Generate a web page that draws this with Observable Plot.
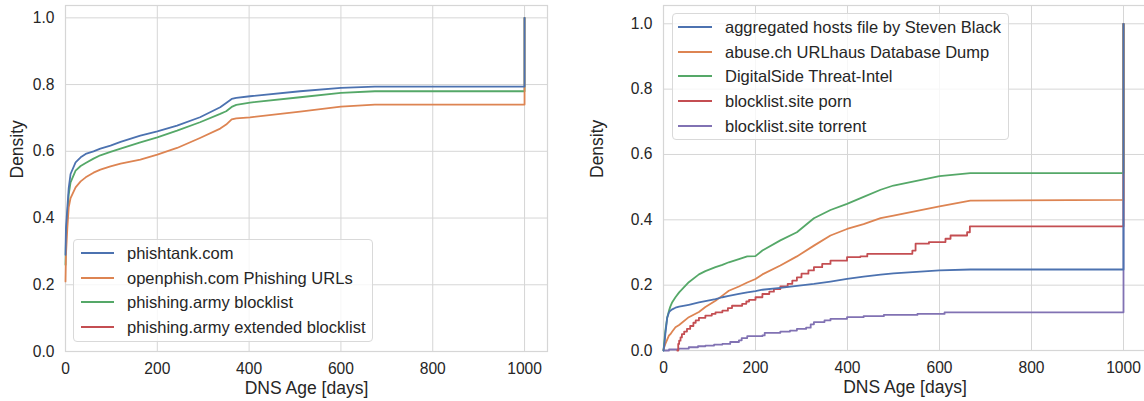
<!DOCTYPE html>
<html>
<head>
<meta charset="utf-8">
<script src="https://cdn.jsdelivr.net/npm/d3@7"></script>
<script src="https://cdn.jsdelivr.net/npm/@observablehq/plot@0.6"></script>
<style>
  body { margin: 0; background: #fff; font-family: "Liberation Sans", Arial, sans-serif; }
  #wrap { position: relative; width: 1144px; height: 401px; overflow: hidden; background: #fff; }
  .panel { position: absolute; top: 0; }
  .legend { position: absolute; background: rgba(255,255,255,0.8); border: 1px solid #d9d9d9; border-radius: 4px; box-sizing: border-box; }
  .item { position: absolute; left: 0; height: 20px; white-space: nowrap; font-size: 16.5px; color: #262626; line-height: 20px; }
  .swatch { position: absolute; top: 9px; height: 2px; }
  .label { position: absolute; top: 0; }
</style>
</head>
<body>
<div id="wrap"></div>
<script>
// ---------- data ----------
const palette = ["#4c72b0", "#dd8452", "#55a868", "#c44e52", "#8172b3"];
const xTicks = [0, 200, 400, 600, 800, 1000];
const yTicks = [0, 0.2, 0.4, 0.6, 0.8, 1.0];

// Left panel
const leftNames = ["phishtank.com", "openphish.com Phishing URLs", "phishing.army blocklist", "phishing.army extended blocklist"];
const leftDays = [0, 1, 4, 7, 11, 22, 33, 44, 61, 76, 98, 120, 163, 200, 243, 293, 337, 350, 362, 372, 402, 511, 600, 674, 1000, 1000];
const phishtank = [0.29, 0.37, 0.43, 0.49, 0.532, 0.567, 0.582, 0.592, 0.600, 0.608, 0.617, 0.628, 0.647, 0.660, 0.677, 0.702, 0.732, 0.745, 0.757, 0.760, 0.765, 0.780, 0.790, 0.794, 0.794, 1.0];
const openphish = [0.21, 0.29, 0.37, 0.432, 0.460, 0.492, 0.510, 0.522, 0.536, 0.545, 0.555, 0.563, 0.575, 0.590, 0.610, 0.640, 0.668, 0.680, 0.696, 0.699, 0.702, 0.719, 0.734, 0.740, 0.740, 1.0];
const phishingArmy = [0.26, 0.34, 0.41, 0.47, 0.507, 0.542, 0.556, 0.565, 0.578, 0.588, 0.598, 0.608, 0.627, 0.642, 0.662, 0.687, 0.712, 0.720, 0.733, 0.739, 0.746, 0.762, 0.775, 0.780, 0.780, 1.0];
const phishingArmyExt = []; // not visible in the chart

// Right panel
const rightNames = ["aggregated hosts file by Steven Black", "abuse.ch URLhaus Database Dump", "DigitalSide Threat-Intel", "blocklist.site porn", "blocklist.site torrent"];
const rightDays = [0, 2, 4, 8, 12, 15, 19, 26, 34, 55, 77, 91, 113, 128, 142, 164, 182, 200, 215, 254, 290, 327, 363, 399, 435, 472, 500, 600, 667, 1000, 1000];
const stevenBlack = [0.0, 0.02, 0.05, 0.10, 0.117, 0.122, 0.126, 0.131, 0.134, 0.140, 0.147, 0.151, 0.157, 0.163, 0.167, 0.173, 0.178, 0.182, 0.186, 0.192, 0.198, 0.204, 0.211, 0.219, 0.226, 0.232, 0.236, 0.245, 0.248, 0.248, 1.0];
const urlhaus = [0.003, 0.012, 0.02, 0.033, 0.046, 0.050, 0.058, 0.071, 0.078, 0.102, 0.118, 0.133, 0.152, 0.168, 0.183, 0.196, 0.208, 0.219, 0.233, 0.260, 0.288, 0.321, 0.352, 0.372, 0.387, 0.405, 0.413, 0.441, 0.459, 0.461, 1.0];
const digitalSide = [0.0, 0.03, 0.06, 0.10, 0.122, 0.135, 0.148, 0.163, 0.178, 0.209, 0.233, 0.243, 0.255, 0.262, 0.270, 0.280, 0.288, 0.289, 0.306, 0.337, 0.362, 0.405, 0.430, 0.449, 0.470, 0.492, 0.505, 0.534, 0.543, 0.543, 1.0];
const pornDays = [30, 32, 34, 37, 40, 45, 51, 58, 65, 70, 77, 91, 105, 113, 128, 140, 149, 171, 180, 186, 200, 215, 230, 240, 254, 270, 280, 290, 300, 315, 327, 345, 363, 399, 428, 443, 541, 548, 577, 613, 624, 660, 666, 1000, 1000];
const pornVals = [0.0, 0.02, 0.03, 0.04, 0.05, 0.058, 0.066, 0.075, 0.085, 0.092, 0.100, 0.107, 0.112, 0.117, 0.122, 0.130, 0.137, 0.143, 0.150, 0.155, 0.163, 0.173, 0.180, 0.188, 0.196, 0.204, 0.214, 0.224, 0.235, 0.245, 0.255, 0.265, 0.275, 0.286, 0.288, 0.296, 0.306, 0.327, 0.332, 0.342, 0.352, 0.362, 0.380, 0.380, 1.0];
const torrentDays = [0, 12, 33, 55, 75, 91, 110, 128, 145, 164, 170, 182, 215, 220, 254, 275, 290, 310, 320, 327, 350, 363, 399, 435, 479, 552, 611, 1000, 1000];
const torrentVals = [0.0, 0.003, 0.006, 0.010, 0.013, 0.015, 0.018, 0.020, 0.026, 0.031, 0.038, 0.044, 0.046, 0.054, 0.058, 0.061, 0.066, 0.070, 0.080, 0.087, 0.092, 0.097, 0.102, 0.105, 0.109, 0.112, 0.117, 0.117, 1.0];

// ---------- helpers ----------
const zip = (days, vals) => days.slice(0, vals.length).map((d, i) => ({d, v: vals[i]}));
const textColor = "#262626";
const gridColor = "#d6d6d6";

function makePanel({width, marginLeft, marginRight, marginBottom, ymax, series}) {
  const marks = [
    Plot.gridX({ticks: xTicks, stroke: gridColor, strokeOpacity: 1, strokeWidth: 1}),
    Plot.gridY({ticks: yTicks, stroke: gridColor, strokeOpacity: 1, strokeWidth: 1}),
    Plot.frame({stroke: gridColor, strokeWidth: 1.2}),
    Plot.axisX({ticks: xTicks, tickSize: 0, tickPadding: 11, tickFormat: d3.format("d"), label: null, fill: textColor}),
    Plot.axisY({ticks: yTicks, tickSize: 0, tickPadding: 11, tickFormat: d3.format(".1f"), label: null, fill: textColor})
  ];
  // draw in reverse order so the first series ends up on top
  for (let i = series.length - 1; i >= 0; i--) {
    const s = series[i];
    if (!s.data.length) continue;
    marks.push(Plot.line(s.data, {x: "d", y: "v", stroke: s.color, strokeWidth: 1.8, curve: s.curve || "linear"}));
  }
  marks.push(Plot.text(["Density"], {text: d => d, frameAnchor: "left", lineAnchor: "middle", dx: -(marginLeft - 17), rotate: -90, fontSize: 17.5, fill: textColor}));
  marks.push(Plot.text(["DNS Age [days]"], {text: d => d, frameAnchor: "bottom", lineAnchor: "middle", dy: 37, fontSize: 17.5, fill: textColor}));
  return Plot.plot({
    width, height: 401,
    marginLeft, marginRight, marginTop: 5, marginBottom,
    x: {domain: [0, 1050]},
    y: {domain: [0, ymax]},
    style: {fontFamily: '"Liberation Sans", Arial, sans-serif', fontSize: "15.6px", color: textColor, background: "transparent", overflow: "visible"},
    marks
  });
}

function makeLegend(names, colors, box) {
  const lg = document.createElement("div");
  lg.className = "legend";
  Object.assign(lg.style, {left: box.left + "px", top: box.top + "px", width: box.width + "px", height: box.height + "px"});
  names.forEach((n, i) => {
    const it = document.createElement("div");
    it.className = "item";
    it.style.top = (box.first + i * box.step - 10) + "px";
    const sw = document.createElement("div");
    sw.className = "swatch";
    sw.style.left = box.swLeft + "px";
    sw.style.width = box.swWidth + "px";
    sw.style.background = colors[i];
    const tx = document.createElement("span");
    tx.className = "label";
    tx.style.left = box.textLeft + "px";
    tx.textContent = n;
    it.appendChild(sw); it.appendChild(tx);
    lg.appendChild(it);
  });
  return lg;
}

// ---------- build ----------
const wrap = document.getElementById("wrap");

const leftSeries = [
  {data: zip(leftDays, phishtank), color: palette[0]},
  {data: zip(leftDays, openphish), color: palette[1]},
  {data: zip(leftDays, phishingArmy), color: palette[2]},
  {data: zip(leftDays, phishingArmyExt), color: palette[3]}
];
const left = makePanel({width: 580, marginLeft: 65, marginRight: 33, marginBottom: 50, ymax: 1.037, series: leftSeries});
left.classList.add("panel");
left.style.left = "0px";
wrap.appendChild(left);

const rightSeries = [
  {data: zip(rightDays, stevenBlack), color: palette[0]},
  {data: zip(rightDays, urlhaus), color: palette[1]},
  {data: zip(rightDays, digitalSide), color: palette[2]},
  {data: zip(pornDays, pornVals), color: palette[3], curve: "step-after"},
  {data: zip(torrentDays, torrentVals), color: palette[4], curve: "step-after"}
];
const right = makePanel({width: 600, marginLeft: 83, marginRight: 34, marginBottom: 51, ymax: 1.056, series: rightSeries});
right.classList.add("panel");
right.style.left = "580px";
wrap.appendChild(right);

wrap.appendChild(makeLegend(leftNames, palette, {left: 73, top: 239, width: 300, height: 103, first: 13, step: 24.6, swLeft: 7, swWidth: 33, textLeft: 53}));
wrap.appendChild(makeLegend(rightNames, palette, {left: 672, top: 13, width: 337, height: 127, first: 13, step: 24.7, swLeft: 5, swWidth: 34, textLeft: 52}));
</script>
</body>
</html>
